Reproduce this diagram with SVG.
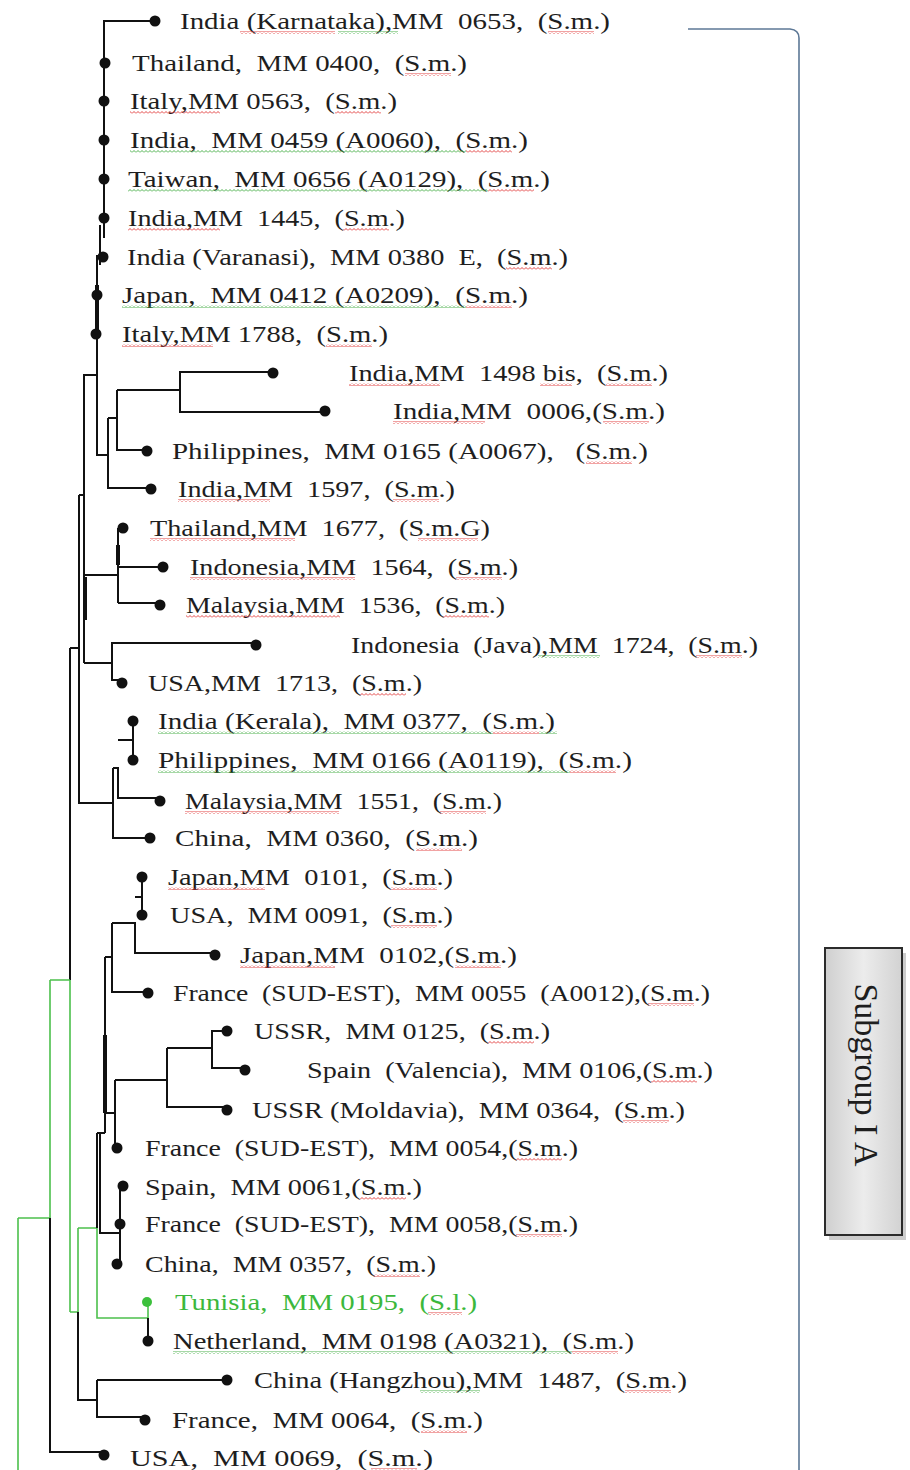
<svg xmlns="http://www.w3.org/2000/svg" width="910" height="1470" viewBox="0 0 910 1470">
<style>
.t{font-family:"Liberation Serif","Times New Roman",serif;font-size:24px;fill:#1e1e1e;white-space:pre}
.tg{fill:#3cb83c}
.e{fill:none;stroke:#111;stroke-width:2}
.ek{fill:none;stroke:#111;stroke-width:4}
.eg{fill:none;stroke:#4cc04c;stroke-width:1.6}
.d{fill:#111}
.dg{fill:#3cc03c}
.ur{fill:url(#wr)}
.ug{fill:url(#wg)}
.br{fill:none;stroke:#5d7896;stroke-width:1.6}
</style>
<defs>
<pattern id="wr" width="4" height="3" patternUnits="userSpaceOnUse"><path d="M0,2.5 L2,0.5 L4,2.5" fill="none" stroke="#e03030" stroke-width="0.9"/></pattern>
<pattern id="wg" width="4" height="3" patternUnits="userSpaceOnUse"><path d="M0,2.5 L2,0.5 L4,2.5" fill="none" stroke="#3aa83a" stroke-width="0.9"/></pattern>
<linearGradient id="box" x1="0" y1="0" x2="1" y2="0"><stop offset="0" stop-color="#cfcfcf"/><stop offset="0.5" stop-color="#ececec"/><stop offset="1" stop-color="#d2d2d2"/></linearGradient>
</defs>
<rect width="910" height="1470" fill="#fff"/>

<g id="connectors">
<path class="e" d="M155,21 H104 V238 M100,225 V265 M97,255 V455 H108 M83,375 H97"/>
<path class="ek" d="M97,285 V335"/>
<path class="e" d="M108,418 V488 H151 M108,418 H117 V450 H147 M117,390 V418 M117,390 H180 V372 H273 M180,390 V412 H325"/>
<path class="e" d="M84,375 V663 M84,575 H117 M118,528 V603 M118,567 H163 M118,603 H160 M84,663 H112 V643 H256 M112,663 V680 H122"/>
<path class="ek" d="M85,577 V620 M118,545 V565"/>
<path class="e" d="M79,495 H84 M79,495 V803 H113 M113,768 V838 H150 M113,768 H118 V798 H160 M118,740 H133 M133,721 V760"/>
<path class="e" d="M70,648 H79 M70,648 V980"/>
<path class="eg" d="M70,980 V1312 M50,980 H70 M50,980 V1218 M18,1218 H50 M18,1218 V1470 M70,1312 H78 M78,1228 V1312 M78,1228 H97 M97,1228 V1318 H148 V1302"/>
<path class="e" d="M50,1218 V1452 H103 M78,1312 V1400 H97 M97,1380 V1417 H145 M97,1380 H227 M148,1318 V1341"/>
<path class="e" d="M97,1133 V1228 M100,1133 V1233 H120 M120,1187 V1264 M97,1133 H105"/>
<path class="e" d="M105,957 V1133 M105,957 H112 M112,923 V992 H148 M112,923 H135 V953 H215 M135,897 H142 M142,877 V915 M105,1113 H115 M115,1080 V1148 M115,1080 H167 M167,1048 V1107 H227 M167,1048 H212 V1031 H227 M212,1048 V1068 H245"/>
<path class="ek" d="M105,1035 V1113"/>
</g>

<g id="bracket"><path class="br" d="M688,29 H790 Q799,30 799,38 V1470"/></g>

<g id="subgroup">
<rect x="829" y="953" width="77" height="287" fill="#9a9a9a" opacity="0.5"/>
<rect x="825" y="948" width="77" height="287" fill="url(#box)" stroke="#2b2b2b" stroke-width="2"/>
<text class="t" style="font-size:34px" text-anchor="middle" transform="translate(855,1075) rotate(90)">Subgroup I A</text>
</g>

<g id="n01"><circle class="d" cx="155" cy="21" r="5.5"/><text class="t" x="180" y="29" textLength="430" lengthAdjust="spacingAndGlyphs">India (Karnataka),MM  0653,  (S.m.)</text><rect class="ur" x="240" y="31" width="95" height="3"/><rect class="ug" x="338" y="31" width="60" height="3"/><rect class="ur" x="548" y="31" width="46" height="3"/></g>
<g id="n02"><circle class="d" cx="105" cy="63" r="5.5"/><text class="t" x="132" y="71" textLength="335" lengthAdjust="spacingAndGlyphs">Thailand,  MM 0400,  (S.m.)</text><rect class="ur" x="405" y="73" width="46" height="3"/></g>
<g id="n03"><circle class="d" cx="104" cy="101" r="5.5"/><text class="t" x="130" y="109" textLength="267" lengthAdjust="spacingAndGlyphs">Italy,MM 0563,  (S.m.)</text><rect class="ur" x="130" y="111" width="90" height="3"/><rect class="ur" x="335" y="111" width="46" height="3"/></g>
<g id="n04"><circle class="d" cx="104" cy="140" r="5.5"/><text class="t" x="130" y="148" textLength="398" lengthAdjust="spacingAndGlyphs">India,  MM 0459 (A0060),  (S.m.)</text><rect class="ug" x="130" y="150" width="336" height="3"/><rect class="ur" x="466" y="150" width="46" height="3"/></g>
<g id="n05"><circle class="d" cx="104" cy="179" r="5.5"/><text class="t" x="128" y="187" textLength="422" lengthAdjust="spacingAndGlyphs">Taiwan,  MM 0656 (A0129),  (S.m.)</text><rect class="ug" x="128" y="189" width="360" height="3"/><rect class="ur" x="488" y="189" width="46" height="3"/></g>
<g id="n06"><circle class="d" cx="104" cy="218" r="5.5"/><text class="t" x="128" y="226" textLength="277" lengthAdjust="spacingAndGlyphs">India,MM  1445,  (S.m.)</text><rect class="ur" x="128" y="228" width="92" height="3"/><rect class="ur" x="343" y="228" width="46" height="3"/></g>
<g id="n07"><circle class="d" cx="103" cy="257" r="5.5"/><text class="t" x="127" y="265" textLength="441" lengthAdjust="spacingAndGlyphs">India (Varanasi),  MM 0380  E,  (S.m.)</text><rect class="ur" x="506" y="267" width="46" height="3"/></g>
<g id="n08"><circle class="d" cx="97" cy="295" r="5.5"/><text class="t" x="122" y="303" textLength="406" lengthAdjust="spacingAndGlyphs">Japan,  MM 0412 (A0209),  (S.m.)</text><rect class="ug" x="122" y="305" width="344" height="3"/><rect class="ur" x="466" y="305" width="46" height="3"/></g>
<g id="n09"><circle class="d" cx="96" cy="334" r="5.5"/><text class="t" x="122" y="342" textLength="266" lengthAdjust="spacingAndGlyphs">Italy,MM 1788,  (S.m.)</text><rect class="ur" x="122" y="344" width="91" height="3"/><rect class="ur" x="326" y="344" width="46" height="3"/></g>
<g id="n10"><circle class="d" cx="273" cy="373" r="5.5"/><text class="t" x="349" y="381" textLength="319" lengthAdjust="spacingAndGlyphs">India,MM  1498 bis,  (S.m.)</text><rect class="ur" x="349" y="383" width="91" height="3"/><rect class="ur" x="540" y="383" width="32" height="3"/><rect class="ur" x="606" y="383" width="46" height="3"/></g>
<g id="n11"><circle class="d" cx="325" cy="411" r="5.5"/><text class="t" x="393" y="419" textLength="272" lengthAdjust="spacingAndGlyphs">India,MM  0006,(S.m.)</text><rect class="ur" x="393" y="421" width="92" height="3"/><rect class="ur" x="603" y="421" width="46" height="3"/></g>
<g id="n12"><circle class="d" cx="147" cy="451" r="5.5"/><text class="t" x="172" y="459" textLength="476" lengthAdjust="spacingAndGlyphs">Philippines,  MM 0165 (A0067),   (S.m.)</text><rect class="ur" x="586" y="461" width="46" height="3"/></g>
<g id="n13"><circle class="d" cx="151" cy="489" r="5.5"/><text class="t" x="178" y="497" textLength="277" lengthAdjust="spacingAndGlyphs">India,MM  1597,  (S.m.)</text><rect class="ur" x="178" y="499" width="92" height="3"/><rect class="ur" x="393" y="499" width="46" height="3"/></g>
<g id="n14"><circle class="d" cx="123" cy="528" r="5.5"/><text class="t" x="150" y="536" textLength="340" lengthAdjust="spacingAndGlyphs">Thailand,MM  1677,  (S.m.G)</text><rect class="ur" x="150" y="538" width="145" height="3"/><rect class="ur" x="418" y="538" width="60" height="3"/></g>
<g id="n15"><circle class="d" cx="163" cy="567" r="5.5"/><text class="t" x="190" y="575" textLength="328" lengthAdjust="spacingAndGlyphs">Indonesia,MM  1564,  (S.m.)</text><rect class="ur" x="190" y="577" width="165" height="3"/><rect class="ur" x="456" y="577" width="46" height="3"/></g>
<g id="n16"><circle class="d" cx="160" cy="605" r="5.5"/><text class="t" x="186" y="613" textLength="319" lengthAdjust="spacingAndGlyphs">Malaysia,MM  1536,  (S.m.)</text><rect class="ur" x="186" y="615" width="154" height="3"/><rect class="ur" x="443" y="615" width="46" height="3"/></g>
<g id="n17"><circle class="d" cx="256" cy="645" r="5.5"/><text class="t" x="351" y="653" textLength="407" lengthAdjust="spacingAndGlyphs">Indonesia  (Java),MM  1724,  (S.m.)</text><rect class="ug" x="538" y="655" width="62" height="3"/><rect class="ur" x="696" y="655" width="46" height="3"/></g>
<g id="n18"><circle class="d" cx="122" cy="683" r="5.5"/><text class="t" x="148" y="691" textLength="274" lengthAdjust="spacingAndGlyphs">USA,MM  1713,  (S.m.)</text><rect class="ur" x="360" y="693" width="46" height="3"/></g>
<g id="n19"><circle class="d" cx="133" cy="721" r="5.5"/><text class="t" x="158" y="729" textLength="397" lengthAdjust="spacingAndGlyphs">India (Kerala),  MM 0377,  (S.m.)</text><rect class="ug" x="158" y="731" width="335" height="3"/><rect class="ur" x="493" y="731" width="46" height="3"/><rect class="ug" x="539" y="731" width="18" height="3"/></g>
<g id="n20"><circle class="d" cx="133" cy="760" r="5.5"/><text class="t" x="158" y="768" textLength="474" lengthAdjust="spacingAndGlyphs">Philippines,  MM 0166 (A0119),  (S.m.)</text><rect class="ug" x="158" y="770" width="412" height="3"/><rect class="ur" x="570" y="770" width="46" height="3"/></g>
<g id="n21"><circle class="d" cx="160" cy="801" r="5.5"/><text class="t" x="185" y="809" textLength="317" lengthAdjust="spacingAndGlyphs">Malaysia,MM  1551,  (S.m.)</text><rect class="ur" x="185" y="811" width="154" height="3"/><rect class="ur" x="440" y="811" width="46" height="3"/></g>
<g id="n22"><circle class="d" cx="150" cy="838" r="5.5"/><text class="t" x="175" y="846" textLength="303" lengthAdjust="spacingAndGlyphs">China,  MM 0360,  (S.m.)</text><rect class="ur" x="416" y="848" width="46" height="3"/></g>
<g id="n23"><circle class="d" cx="142" cy="877" r="5.5"/><text class="t" x="168" y="885" textLength="285" lengthAdjust="spacingAndGlyphs">Japan,MM  0101,  (S.m.)</text><rect class="ur" x="168" y="887" width="97" height="3"/><rect class="ur" x="391" y="887" width="46" height="3"/></g>
<g id="n24"><circle class="d" cx="142" cy="915" r="5.5"/><text class="t" x="170" y="923" textLength="283" lengthAdjust="spacingAndGlyphs">USA,  MM 0091,  (S.m.)</text><rect class="ur" x="391" y="925" width="46" height="3"/></g>
<g id="n25"><circle class="d" cx="215" cy="955" r="5.5"/><text class="t" x="240" y="963" textLength="277" lengthAdjust="spacingAndGlyphs">Japan,MM  0102,(S.m.)</text><rect class="ur" x="240" y="965" width="95" height="3"/><rect class="ur" x="455" y="965" width="46" height="3"/></g>
<g id="n26"><circle class="d" cx="148" cy="993" r="5.5"/><text class="t" x="173" y="1001" textLength="537" lengthAdjust="spacingAndGlyphs">France  (SUD-EST),  MM 0055  (A0012),(S.m.)</text><rect class="ur" x="648" y="1003" width="46" height="3"/></g>
<g id="n27"><circle class="d" cx="227" cy="1031" r="5.5"/><text class="t" x="254" y="1039" textLength="296" lengthAdjust="spacingAndGlyphs">USSR,  MM 0125,  (S.m.)</text><rect class="ur" x="488" y="1041" width="46" height="3"/></g>
<g id="n28"><circle class="d" cx="245" cy="1070" r="5.5"/><text class="t" x="307" y="1078" textLength="406" lengthAdjust="spacingAndGlyphs">Spain  (Valencia),  MM 0106,(S.m.)</text><rect class="ur" x="651" y="1080" width="46" height="3"/></g>
<g id="n29"><circle class="d" cx="227" cy="1110" r="5.5"/><text class="t" x="252" y="1118" textLength="433" lengthAdjust="spacingAndGlyphs">USSR (Moldavia),  MM 0364,  (S.m.)</text><rect class="ur" x="623" y="1120" width="46" height="3"/></g>
<g id="n30"><circle class="d" cx="117" cy="1148" r="5.5"/><text class="t" x="145" y="1156" textLength="433" lengthAdjust="spacingAndGlyphs">France  (SUD-EST),  MM 0054,(S.m.)</text><rect class="ur" x="516" y="1158" width="46" height="3"/></g>
<g id="n31"><circle class="d" cx="123" cy="1186" r="5.5"/><text class="t" x="145" y="1195" textLength="277" lengthAdjust="spacingAndGlyphs">Spain,  MM 0061,(S.m.)</text><rect class="ur" x="360" y="1197" width="46" height="3"/></g>
<g id="n32"><circle class="d" cx="120" cy="1224" r="5.5"/><text class="t" x="145" y="1232" textLength="433" lengthAdjust="spacingAndGlyphs">France  (SUD-EST),  MM 0058,(S.m.)</text><rect class="ur" x="516" y="1234" width="46" height="3"/></g>
<g id="n33"><circle class="d" cx="117" cy="1264" r="5.5"/><text class="t" x="145" y="1272" textLength="291" lengthAdjust="spacingAndGlyphs">China,  MM 0357,  (S.m.)</text><rect class="ur" x="374" y="1274" width="46" height="3"/></g>
<g id="n34"><circle class="dg" cx="147" cy="1302" r="5"/><text class="t tg" x="175" y="1310" textLength="302" lengthAdjust="spacingAndGlyphs">Tunisia,  MM 0195,  (S.l.)</text><rect class="ur" x="428" y="1312" width="34" height="3"/></g>
<g id="n35"><circle class="d" cx="148" cy="1341" r="5.5"/><text class="t" x="173" y="1349" textLength="461" lengthAdjust="spacingAndGlyphs">Netherland,  MM 0198 (A0321),  (S.m.)</text><rect class="ug" x="173" y="1351" width="399" height="3"/><rect class="ur" x="572" y="1351" width="46" height="3"/></g>
<g id="n36"><circle class="d" cx="227" cy="1380" r="5.5"/><text class="t" x="254" y="1388" textLength="433" lengthAdjust="spacingAndGlyphs">China (Hangzhou),MM  1487,  (S.m.)</text><rect class="ug" x="420" y="1390" width="60" height="3"/><rect class="ur" x="625" y="1390" width="46" height="3"/></g>
<g id="n37"><circle class="d" cx="145" cy="1420" r="5.5"/><text class="t" x="172" y="1428" textLength="311" lengthAdjust="spacingAndGlyphs">France,  MM 0064,  (S.m.)</text><rect class="ur" x="421" y="1430" width="46" height="3"/></g>
<g id="n38"><circle class="d" cx="104" cy="1455" r="5.5"/><text class="t" x="130" y="1466" textLength="303" lengthAdjust="spacingAndGlyphs">USA,  MM 0069,  (S.m.)</text><rect class="ur" x="371" y="1468" width="46" height="3"/></g>
</svg>
